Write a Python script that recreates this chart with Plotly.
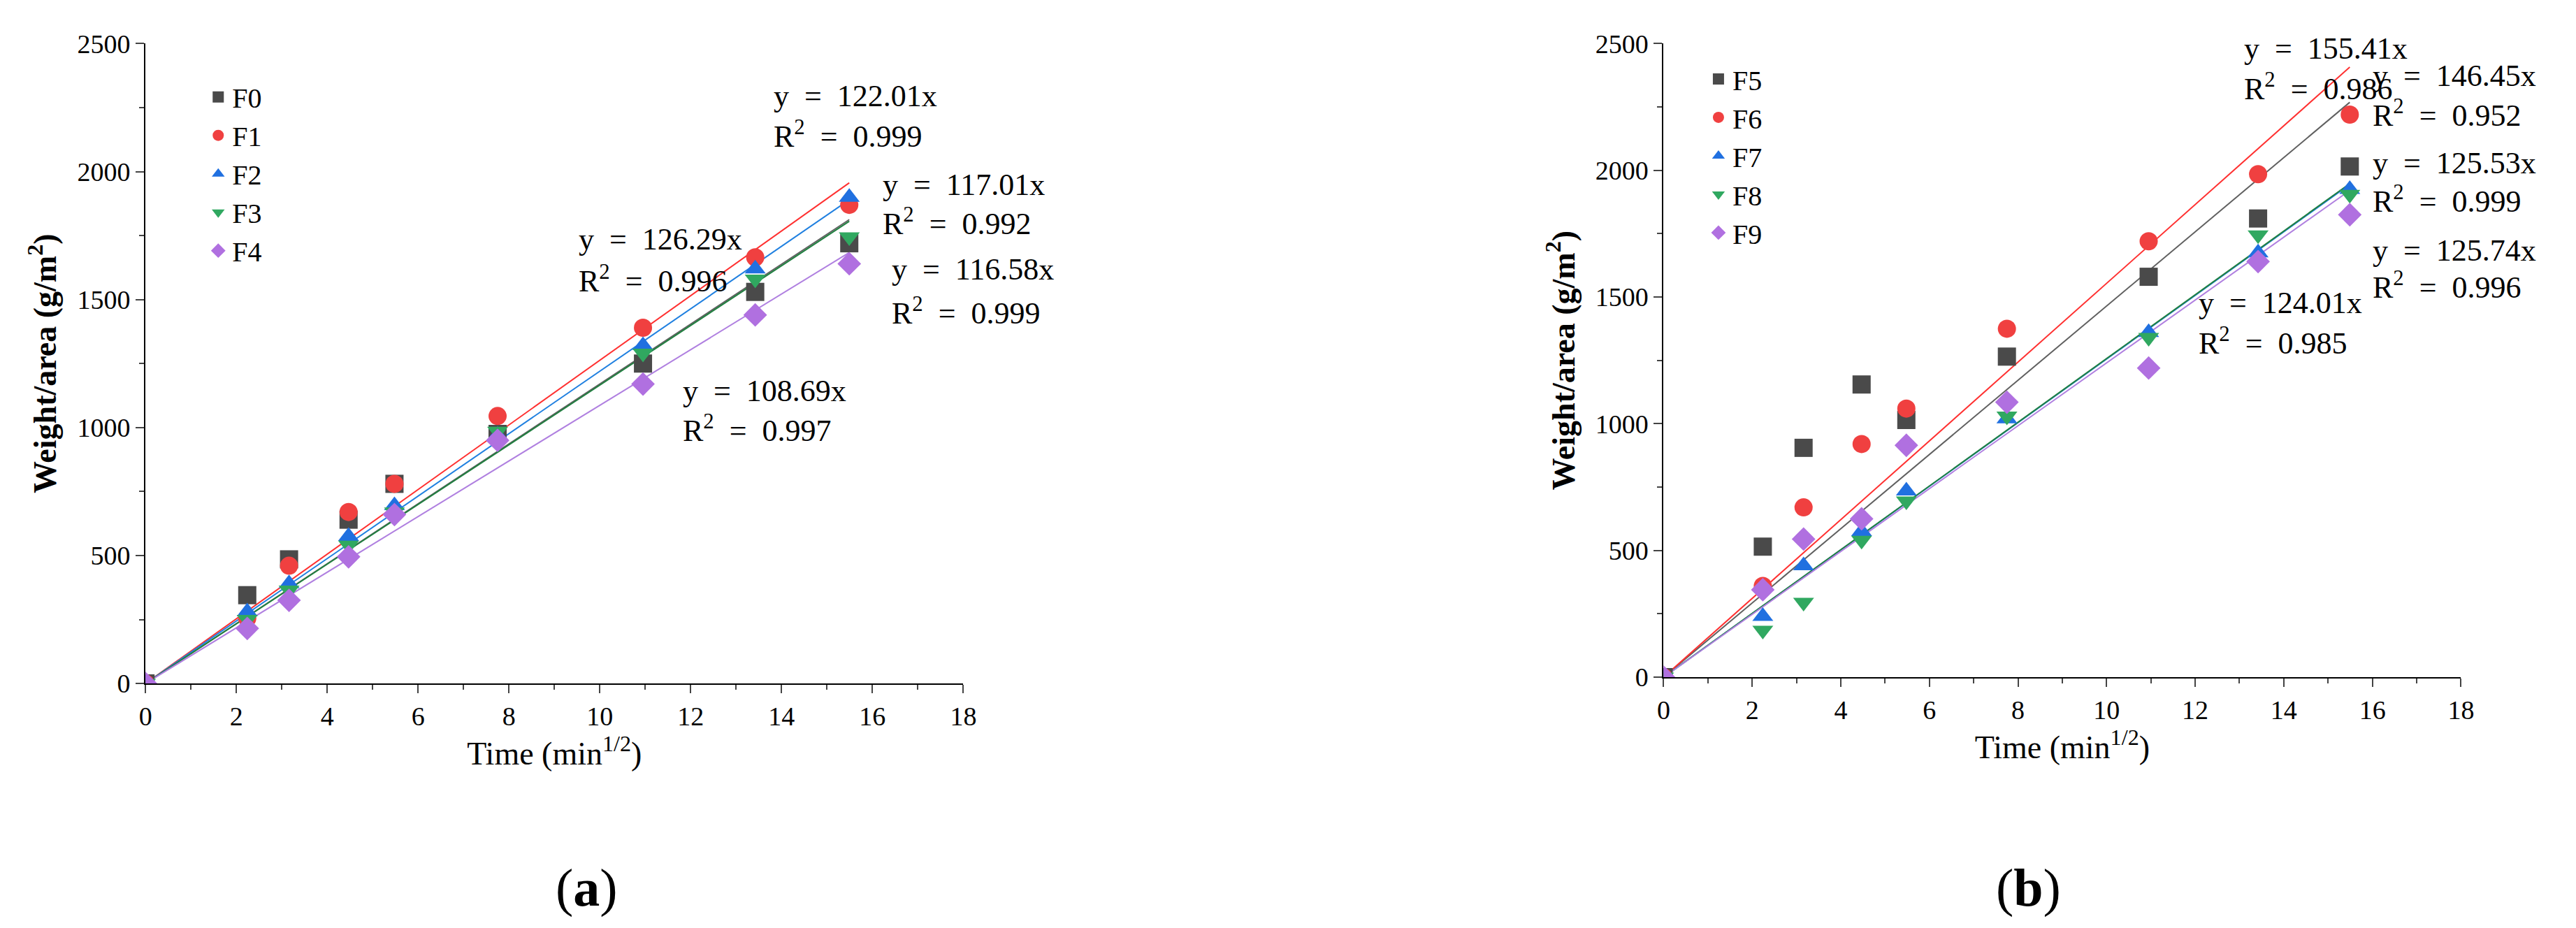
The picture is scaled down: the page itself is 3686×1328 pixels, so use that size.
import plotly.graph_objects as go

time_x = [0, 2.24, 3.16, 4.47, 5.48, 7.75, 10.95, 13.42, 15.49]

# panel (a)
F0 = [0, 345, 485, 640, 780, 975, 1250, 1530, 1720]
F1 = [0, 255, 460, 670, 780, 1045, 1390, 1665, 1870]
F2 = [0, 280, 390, 575, 695, 970, 1320, 1620, 1900]
F3 = [0, 250, 365, 540, 670, 985, 1290, 1580, 1745]
F4 = [0, 215, 325, 495, 660, 950, 1170, 1440, 1640]
# panel (b)
F5 = [0, 515, 905, 1155, 1015, 1265, 1580, 1810, 2015]
F6 = [0, 360, 670, 920, 1060, 1375, 1720, 1985, 2220]
F7 = [0, 240, 440, 575, 735, 1020, 1360, 1675, 1925]
F8 = [0, 185, 295, 540, 695, 1030, 1340, 1745, 1905]
F9 = [0, 345, 545, 625, 915, 1085, 1220, 1640, 1825]

slopes_a = [117.01, 126.29, 122.01, 116.58, 108.69]
slopes_b = [146.45, 155.41, 125.53, 125.74, 124.01]

eq_a = [("y  =  122.01x", "0.999", 13.8, 2295, 2145),
        ("y  =  126.29x", "0.996", 9.5, 1735, 1580),
        ("y  =  117.01x", "0.992", 16.2, 1947, 1803),
        ("y  =  116.58x", "0.999", 16.4, 1617, 1455),
        ("y  =  108.69x", "0.997", 11.8, 1144, 995)]
eq_b = [("y  =  155.41x", "0.986", 13.07, 2481, 2330),
        ("y  =  146.45x", "0.952", 15.98, 2374, 2224),
        ("y  =  125.53x", "0.999", 15.98, 2029, 1884),
        ("y  =  125.74x", "0.996", 15.98, 1683, 1545),
        ("y  =  124.01x", "0.985", 12.04, 1476, 1325)]

colors = ["#4a4a4a", "#f04040", "#2070e0", "#30a860", "#b070e0"]
line_colors = ["#606060", "#ff3030", "#2080e0", "#208040", "#b080e0"]
symbols = ["square", "circle", "triangle-up", "triangle-down", "diamond"]

fig = go.Figure()

def add_panel(series, names, slopes, xa, ya, leg):
    for i, (s, n) in enumerate(zip(series, names)):
        fig.add_trace(go.Scatter(
            x=[0, time_x[-1]], y=[0, slopes[i] * time_x[-1]], mode="lines",
            line=dict(color=line_colors[i], width=2), showlegend=False,
            xaxis=xa, yaxis=ya))
    for i, (s, n) in enumerate(zip(series, names)):
        fig.add_trace(go.Scatter(
            x=time_x, y=s, mode="markers", name=n, legend=leg,
            marker=dict(symbol=symbols[i], color=colors[i], size=26),
            xaxis=xa, yaxis=ya))

add_panel([F0, F1, F2, F3, F4], ["F0", "F1", "F2", "F3", "F4"], slopes_a, "x", "y", "legend")
add_panel([F5, F6, F7, F8, F9], ["F5", "F6", "F7", "F8", "F9"], slopes_b, "x2", "y2", "legend2")

ann = []
for eqs, xr, yr in [(eq_a, "x", "y"), (eq_b, "x2", "y2")]:
    for t, r2, ax, ay1, ay2 in eqs:
        ann.append(dict(x=ax, y=ay1, xref=xr, yref=yr, text=t, showarrow=False,
                        xanchor="left", font=dict(size=44)))
        ann.append(dict(x=ax, y=ay2, xref=xr, yref=yr, text="R<sup>2</sup>  =  " + r2,
                        showarrow=False, xanchor="left", font=dict(size=44)))
ann.append(dict(x=0.212, y=0.0, xref="paper", yref="paper", yanchor="bottom",
                text="(<b>a</b>)", showarrow=False, font=dict(size=76)))
ann.append(dict(x=0.802, y=0.0, xref="paper", yref="paper", yanchor="bottom",
                text="(<b>b</b>)", showarrow=False, font=dict(size=76)))

xax = dict(range=[0, 18], dtick=2, showline=True, linecolor="black", linewidth=2,
           ticks="outside", ticklen=12, tickwidth=2, showgrid=False, zeroline=False,
           minor=dict(ticks="outside", ticklen=7, dtick=1, tickwidth=2),
           title=dict(text="Time (min<sup>1/2</sup>)", font=dict(size=46)),
           tickfont=dict(size=38))
yax = dict(range=[0, 2500], dtick=500, showline=True, linecolor="black", linewidth=2,
           ticks="outside", ticklen=12, tickwidth=2, showgrid=False, zeroline=False,
           minor=dict(ticks="outside", ticklen=7, dtick=250, tickwidth=2),
           title=dict(text="<b>Weight/area (g/m<sup>2</sup>)</b>", font=dict(size=46)),
           tickfont=dict(size=38))

fig.update_layout(
    width=3686, height=1328, paper_bgcolor="white", plot_bgcolor="white",
    margin=dict(l=0, r=0, t=0, b=0),
    font=dict(family="Liberation Serif", color="black"),
    xaxis=dict(xax, domain=[0.052, 0.372], anchor="y"),
    yaxis=dict(yax, domain=[0.262, 0.974], anchor="x"),
    xaxis2=dict(xax, domain=[0.646, 0.958], anchor="y2"),
    yaxis2=dict(yax, domain=[0.269, 0.974], anchor="x2"),
    legend=dict(x=0.075, y=0.94, xanchor="left", yanchor="top", font=dict(size=40),
                bgcolor="rgba(0,0,0,0)", tracegroupgap=0),
    legend2=dict(x=0.662, y=0.96, xanchor="left", yanchor="top", font=dict(size=40),
                 bgcolor="rgba(0,0,0,0)", tracegroupgap=0),
    annotations=ann,
)

fig.write_html("out.html")
